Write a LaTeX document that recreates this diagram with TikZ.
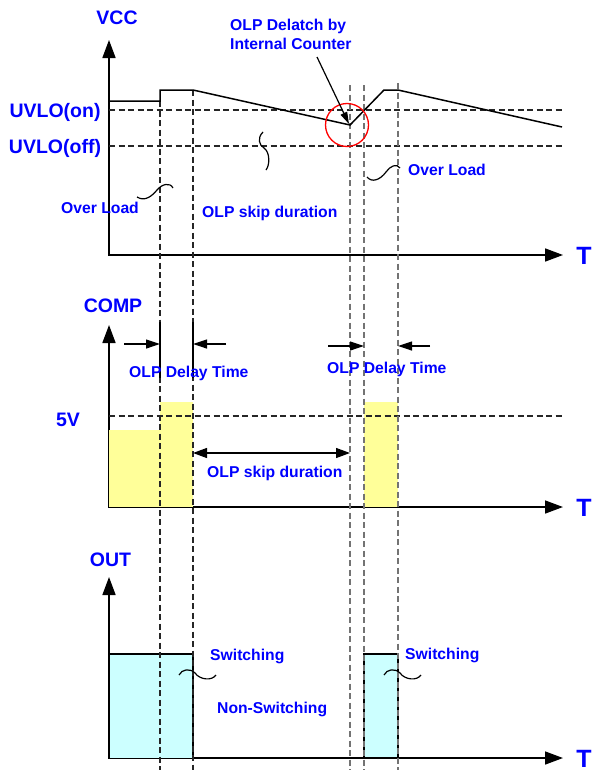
\documentclass[tikz,border=0pt]{standalone}
\usepackage{fontspec}
\setmainfont{Liberation Sans}
\usetikzlibrary{arrows.meta}
\definecolor{txtblue}{RGB}{0,0,255}
\definecolor{compyellow}{RGB}{255,255,153}
\definecolor{outcyan}{RGB}{204,255,255}
\begin{document}
\begin{tikzpicture}[x=1pt,y=-1pt,
  biglabel/.style={text=txtblue,font=\fontsize{19.5}{23}\selectfont\bfseries,inner sep=0pt,anchor=base},
  tlabel/.style={text=txtblue,font=\fontsize{25}{28}\selectfont\bfseries,inner sep=0pt,anchor=base},
  smalllabel/.style={text=txtblue,font=\fontsize{15.7}{19}\selectfont\bfseries,inner sep=0pt,anchor=base west},
  axis/.style={line width=1.6pt,{Triangle[length=18pt,width=13pt]}-{Triangle[length=18pt,width=13pt]}},
  wave/.style={line width=1.5pt},
  guide/.style={line width=1.1pt,dash pattern=on 6pt off 3.5pt,black!85},
  guidegray/.style={line width=1.1pt,dash pattern=on 6pt off 3.5pt,black!55},
  dimarrow/.style={line width=1.2pt,-{Triangle[length=14pt,width=9pt]}},
  squig/.style={line width=1.2pt}]
\useasboundingbox (0,0) rectangle (592,771);

% axes
\draw[axis] (109,40) -- (109,255) -- (563,255);
\draw[axis] (109,325) -- (109,507) -- (563,507);
\draw[axis] (109,577) -- (109,758) -- (563,758);

% COMP areas
\fill[compyellow] (109,430) rectangle (160,507);
\fill[compyellow] (160,402) rectangle (193,507);
\fill[compyellow] (364,402) rectangle (398,507);

% OUT areas
\filldraw[fill=outcyan,draw=black,line width=1.4pt] (109,758) -- (109,654) -- (193,654) -- (193,758);
\filldraw[fill=outcyan,draw=black,line width=1.4pt] (364,758) rectangle (398,654);

% horizontal guides
\draw[guide] (109,110) -- (565,110);
\draw[guide] (109,146) -- (565,146);
\draw[guide] (109,416) -- (565,416);

% vertical guides
\draw[guide] (160,101) -- (160,770);
\draw[guide] (193,90) -- (193,770);
\draw[guidegray] (350,85) -- (350,770);
\draw[guidegray] (364,85) -- (364,770);
\draw[guidegray] (398,83) -- (398,770);

% VCC waveform
\draw[wave] (109,101) -- (160,101) -- (160,90) -- (193,90) -- (350,125) -- (384,90) -- (398,90) -- (562,127);

% red circle and callout
\draw[red,line width=1.3pt] (347,125) circle[radius=21.5pt];
\coordinate (calloutstart) at (317,57);
\coordinate (calloutend) at (349,124);
\draw[line width=1.2pt,-{Triangle[length=12pt,width=7pt]}] (calloutstart) -- (calloutend);

% delay time marks
\draw[line width=1.2pt] (160,322) -- (160,378);
\draw[line width=1.2pt] (193,322) -- (193,378);
\draw[dimarrow] (124,344) -- (160,344);
\draw[dimarrow] (226,344) -- (193,344);
\draw[dimarrow] (328,346) -- (364,346);
\draw[dimarrow] (430,346) -- (398,346);
\draw[line width=1.2pt,{Triangle[length=14pt,width=10pt]}-{Triangle[length=14pt,width=10pt]}] (193,453) -- (350,453);

% squiggles
\draw[squig] (137,197) .. controls (145,202) and (152,196) .. (157,190) .. controls (162,184) and (170,182) .. (173,188);
\draw[squig] (263,132) .. controls (257,138) and (259,145) .. (264,148) .. controls (270,152) and (270,165) .. (266,170);
\draw[squig] (367,177) .. controls (372,183) and (380,180) .. (386,172) .. controls (390,166) and (397,163) .. (400,168);
\draw[squig] (179,675) .. controls (182,669) and (190,668) .. (195,673) .. controls (200,680) and (212,681) .. (216,675);
\draw[squig] (384,675) .. controls (387,669) and (395,668) .. (400,673) .. controls (405,680) and (417,681) .. (421,675);

% labels
\node[biglabel] (vcc) at (117,24) {VCC};
\node[biglabel] (uvloon) at (55,117) {UVLO(on)};
\node[biglabel] (uvlooff) at (55,153) {UVLO(off)};
\node[biglabel] (comp) at (113,312) {COMP};
\node[biglabel] (fivev) at (68,426) {5V};
\node[biglabel] (out) at (110.5,566) {OUT};
\node[tlabel] (t1) at (584,264) {T};
\node[tlabel] (t2) at (584,516) {T};
\node[tlabel] (t3) at (584,767) {T};

\node[smalllabel] (delatch1) at (230,30) {OLP Delatch by};
\node[smalllabel] (delatch2) at (230,49) {Internal Counter};
\node[smalllabel] (ol1) at (61,213) {Over Load};
\node[smalllabel] (skip1) at (202,217) {OLP skip duration};
\node[smalllabel] (ol2) at (408,175.5) {Over Load};
\node[smalllabel] (dt1) at (129,377) {OLP Delay Time};
\node[smalllabel] (dt2) at (327,373) {OLP Delay Time};
\node[smalllabel] (skip2) at (207,477) {OLP skip duration};
\node[smalllabel] (sw1) at (210,660) {Switching};
\node[smalllabel] (nsw) at (217,713) {Non-Switching};
\node[smalllabel] (sw2) at (405,659) {Switching};
\end{tikzpicture}
\end{document}
